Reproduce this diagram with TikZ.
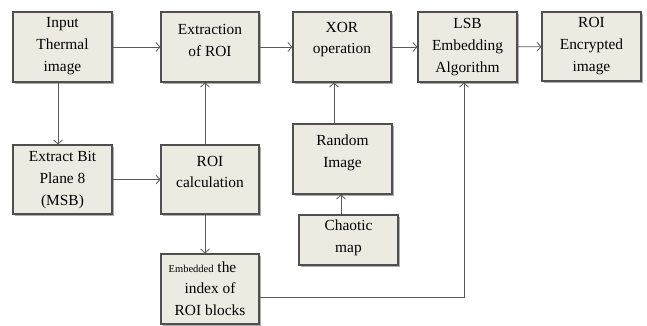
\documentclass[tikz,border=0pt]{standalone}
\usepackage{fontspec}
\setmainfont{Liberation Serif}
\usetikzlibrary{arrows.meta,shadows}
\definecolor{boxfill}{HTML}{EDEBE1}
\definecolor{boxline}{HTML}{4F4F4F}
\definecolor{wire}{HTML}{5A5A5A}
\tikzset{
  box/.style={draw=boxline, line width=1.1pt, fill=boxfill,
    drop shadow={shadow xshift=1.6pt, shadow yshift=-1.6pt, fill=black!45, opacity=0.7},
    minimum width=98pt, minimum height=70pt, inner sep=0pt},
  lbl/.style={align=center, inner sep=0pt, text=black,
    font=\fontsize{15.4}{21.7}\selectfont},
  flow/.style={draw=wire, line width=0.9pt,
    -{Straight Barb[length=4pt,width=9pt,line width=0.8pt]}},
  wireline/.style={draw=wire, line width=0.9pt}
}
\begin{document}
\begin{tikzpicture}[x=1pt, y=-1pt]
\useasboundingbox (0,0) rectangle (647,325);

% blocks
\node[box, minimum width=99pt] (in) at (62.5,47) {};
\node[box] (ext) at (210,47) {};
\node[box] (xor) at (342,47) {};
\node[box, minimum width=99pt] (lsb) at (467.5,47) {};
\node[box, minimum width=99pt, minimum height=69pt] (enc) at (591.5,46.5) {};
\node[box, minimum width=99pt, minimum height=69pt] (bit) at (62.5,179.5) {};
\node[box, minimum height=69pt] (roi) at (210,179.5) {};
\node[box, minimum width=99pt] (rnd) at (342.5,159) {};
\node[box, minimum width=99pt, minimum height=50pt] (cha) at (348.5,240) {};
\node[box] (emb) at (210,289) {};

% block texts
\node[lbl] (in-t)  at (62.5,46)  {Input\\Thermal\\image};
\node[lbl] (ext-t) at (210,40.5) {Extraction\\of ROI};
\node[lbl] (xor-t) at (342,39.5) {XOR\\operation};
\node[lbl] (lsb-t) at (467.5,47) {LSB\\Embedding\\Algorithm};
\node[lbl] (enc-t) at (591.5,46) {ROI\\Encrypted\\image};
\node[lbl] (bit-t) at (62.5,180) {Extract Bit\\Plane 8\\(MSB)};
\node[lbl] (roi-t) at (210,172)  {ROI\\calculation};
\node[lbl] (rnd-t) at (342.5,153) {Random\\Image};
\node[lbl] (cha-t) at (348.5,238) {Chaotic\\map};
\node[lbl] (emb-t) at (210,288.5)
  {{\fontsize{10.5}{10.5}\selectfont Embedded} the\hspace*{15pt}\\index of\\ROI blocks};

% connectors
\draw[flow] (in) -- (ext);
\draw[flow] (ext) -- (xor);
\draw[flow] (xor) -- (lsb);
\draw[flow] (lsb) -- (enc);
\draw[flow] ([xshift=-4.5pt]in.south) -- ([xshift=-4.5pt]bit.north);
\draw[flow] (bit) -- (roi);
\draw[flow] ([xshift=-5pt]roi.north) -- ([xshift=-5pt]ext.south);
\draw[flow] ([xshift=-5pt]roi.south) -- ([xshift=-5pt]emb.north);
\draw[flow] ([xshift=-8.5pt]rnd.north) -- ([xshift=-8pt]xor.south);
\draw[flow] ([xshift=-7.5pt]cha.north) -- ([xshift=-1.5pt]rnd.south);
\draw[flow] ([yshift=-8pt]emb.east) -| ([xshift=-3.5pt]lsb.south);
\end{tikzpicture}
\end{document}
